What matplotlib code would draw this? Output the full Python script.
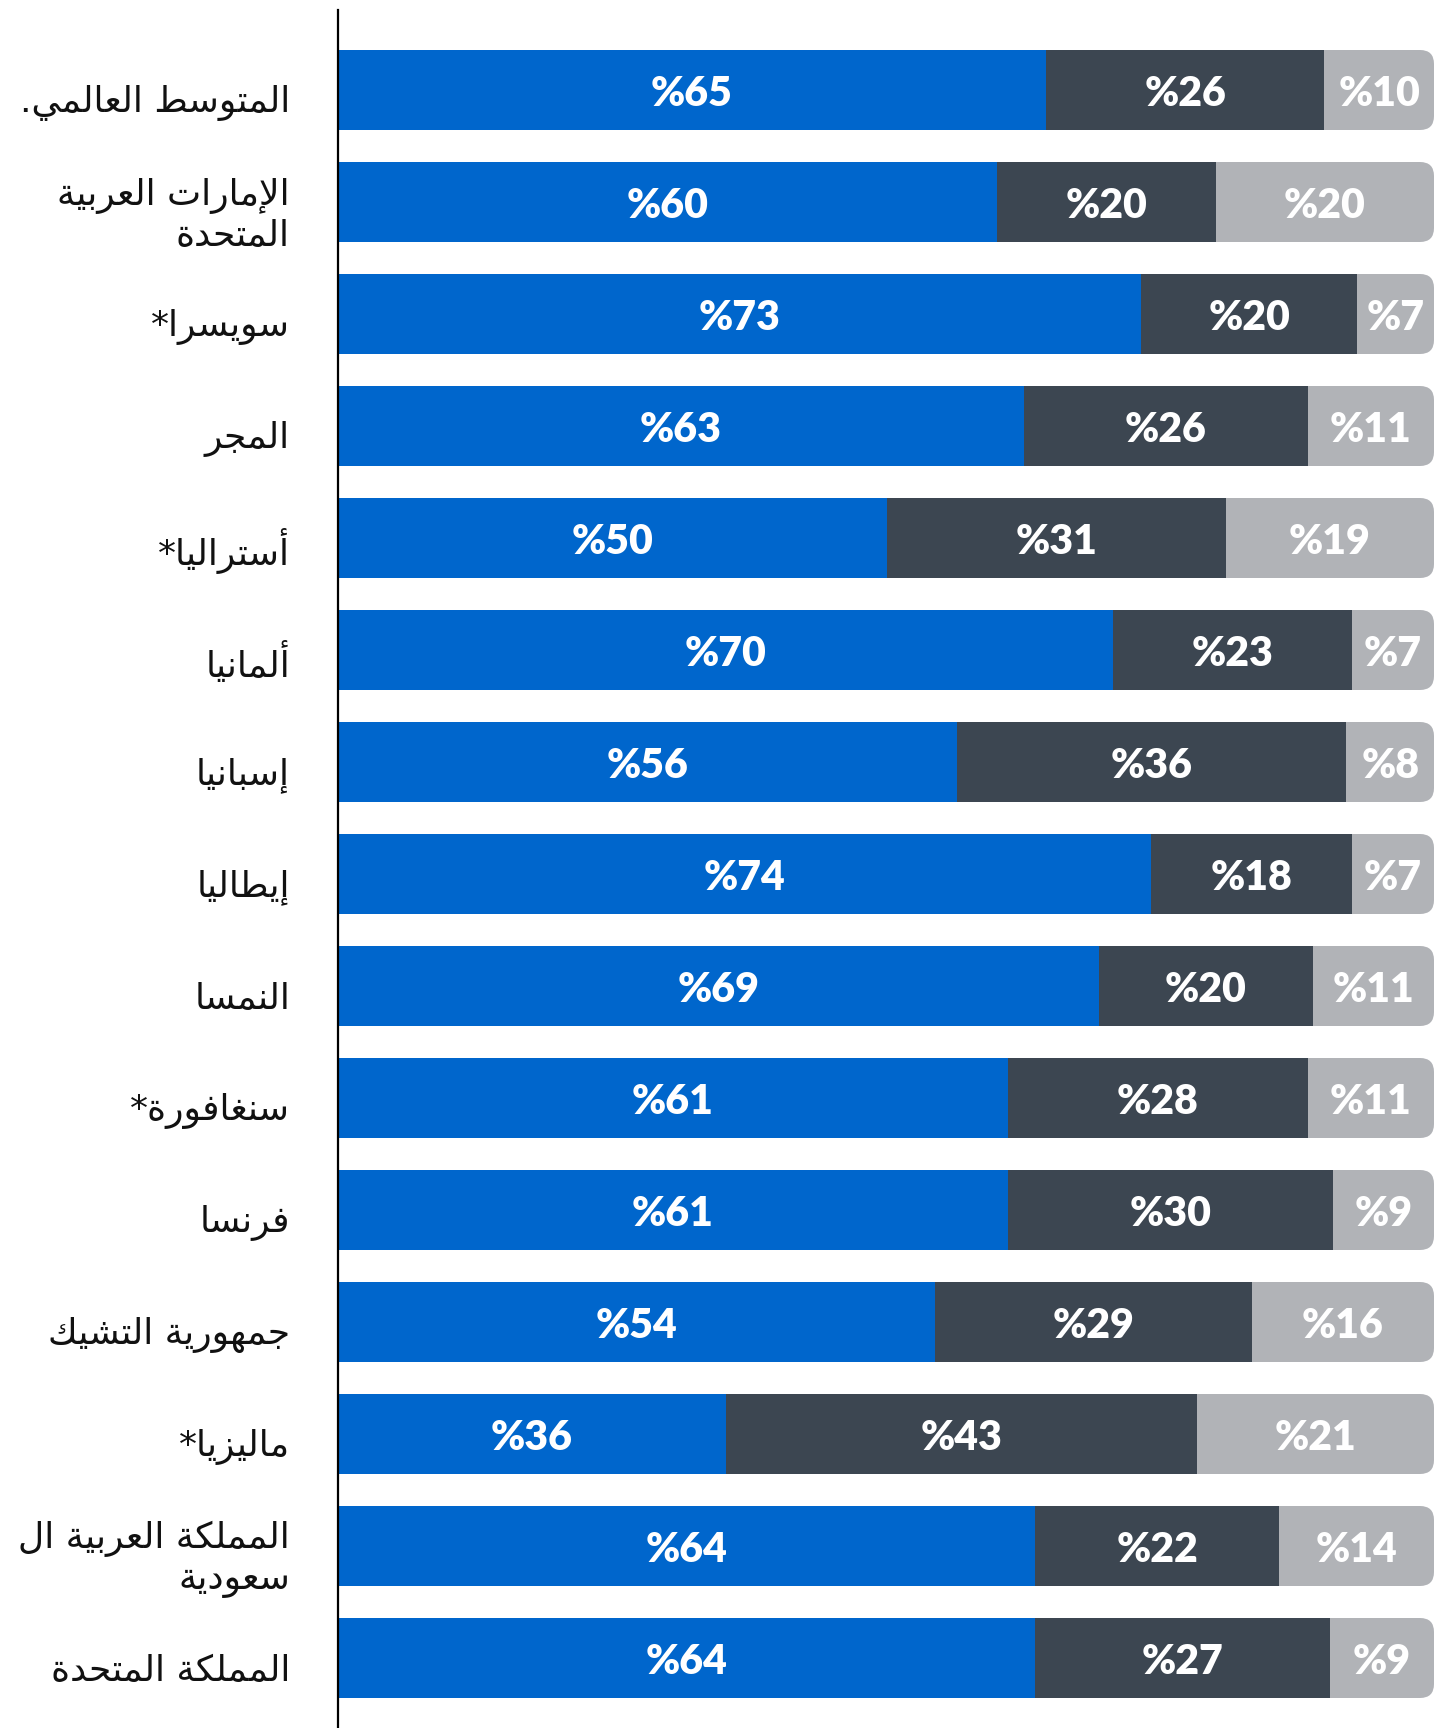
import matplotlib
matplotlib.use("Agg")
import matplotlib.pyplot as plt
from matplotlib.patches import FancyBboxPatch
from matplotlib import font_manager
import matplotlib.patheffects as pe

# ---------------- data ----------------
countries = [
    "المتوسط العالمي.",
    "الإمارات العربية\nالمتحدة",
    "سويسرا*",
    "المجر",
    "أستراليا*",
    "ألمانيا",
    "إسبانيا",
    "إيطاليا",
    "النمسا",
    "سنغافورة*",
    "فرنسا",
    "جمهورية التشيك",
    "ماليزيا*",
    "المملكة العربية ال\nسعودية",
    "المملكة المتحدة",
]
# printed labels (%)
lab_blue = [65, 60, 73, 63, 50, 70, 56, 74, 69, 61, 61, 54, 36, 64, 64]
lab_dark = [26, 20, 20, 26, 31, 23, 36, 18, 20, 28, 30, 29, 43, 22, 27]
lab_light = [10, 20, 7, 11, 19, 7, 8, 7, 11, 11, 9, 16, 21, 14, 9]
# segment shares as drawn (%)
share_blue = [64.6, 60.1, 73.3, 62.6, 50.1, 70.7, 56.5, 74.2, 69.4, 61.1, 61.1, 54.5, 35.4, 63.6, 63.6]
share_dark = [25.4, 20.0, 19.7, 25.9, 30.9, 21.8, 35.5, 18.3, 19.6, 27.4, 29.7, 28.9, 43.0, 22.3, 26.9]
share_light = [10.0, 19.9, 7.0, 11.5, 19.0, 7.5, 8.0, 7.5, 11.0, 11.5, 9.2, 16.6, 21.6, 14.1, 9.5]

colors = ["#0066CC", "#3C4651", "#B1B3B7"]

# ---------------- minimal Arabic shaping (presentation forms + RTL order) ----------------
_FORMS = {
    0x0621: (0xFE80, 1), 0x0622: (0xFE81, 2), 0x0623: (0xFE83, 2), 0x0624: (0xFE85, 2),
    0x0625: (0xFE87, 2), 0x0626: (0xFE89, 4), 0x0627: (0xFE8D, 2), 0x0628: (0xFE8F, 4),
    0x0629: (0xFE93, 2), 0x062A: (0xFE95, 4), 0x062B: (0xFE99, 4), 0x062C: (0xFE9D, 4),
    0x062D: (0xFEA1, 4), 0x062E: (0xFEA5, 4), 0x062F: (0xFEA9, 2), 0x0630: (0xFEAB, 2),
    0x0631: (0xFEAD, 2), 0x0632: (0xFEAF, 2), 0x0633: (0xFEB1, 4), 0x0634: (0xFEB5, 4),
    0x0635: (0xFEB9, 4), 0x0636: (0xFEBD, 4), 0x0637: (0xFEC1, 4), 0x0638: (0xFEC5, 4),
    0x0639: (0xFEC9, 4), 0x063A: (0xFECD, 4), 0x0641: (0xFED1, 4), 0x0642: (0xFED5, 4),
    0x0643: (0xFED9, 4), 0x0644: (0xFEDD, 4), 0x0645: (0xFEE1, 4), 0x0646: (0xFEE5, 4),
    0x0647: (0xFEE9, 4), 0x0648: (0xFEED, 2), 0x0649: (0xFEEF, 2), 0x064A: (0xFEF1, 4),
}
_LAMALEF = {0x0622: 0xFEF5, 0x0623: 0xFEF7, 0x0625: 0xFEF9, 0x0627: 0xFEFB}


def _jtype(item):
    kind, c = item
    if kind == "LA":
        return "R"
    f = _FORMS.get(ord(c))
    if f is None:
        return "U"
    return "D" if f[1] == 4 else ("R" if f[1] == 2 else "U")


def shape_line(text):
    items = []
    i = 0
    while i < len(text):
        c = text[i]
        if ord(c) == 0x0644 and i + 1 < len(text) and ord(text[i + 1]) in _LAMALEF:
            items.append(("LA", text[i + 1]))
            i += 2
        else:
            items.append(("C", c))
            i += 1
    out = []
    for k, item in enumerate(items):
        jt = _jtype(item)
        prev = _jtype(items[k - 1]) if k > 0 else "U"
        nxt = _jtype(items[k + 1]) if k + 1 < len(items) else "U"
        jp = jt in ("D", "R") and prev == "D"
        jn = jt == "D" and nxt in ("D", "R")
        kind, c = item
        if kind == "LA":
            out.append(chr(_LAMALEF[ord(c)] + (1 if jp else 0)))
        elif jt == "U":
            out.append(c)
        else:
            base = _FORMS[ord(c)][0]
            idx = 3 if (jp and jn) else 1 if jp else 2 if jn else 0
            out.append(chr(base + idx))
    return "".join(reversed(out))


def shape(text):
    return "\n".join(shape_line(l) for l in text.split("\n"))


# pick heaviest Lato available
_lato_weights = sorted({f.weight for f in font_manager.fontManager.ttflist if f.name == "Lato"},
                       key=lambda w: w if isinstance(w, int) else 400)
has_heavy = any((isinstance(w, int) and w >= 800) for w in _lato_weights)
num_weight = "heavy" if has_heavy else "bold"
num_effects = [] if has_heavy else [pe.withStroke(linewidth=1.0, foreground="white")]

# ---------------- figure ----------------
W, H = 1435, 1728
fig = plt.figure(figsize=(W / 100, H / 100), dpi=100)
ax_left_px, ax_right_px = 338, 1434
ax_top_px = 10
ax = fig.add_axes([ax_left_px / W, 0, (ax_right_px - ax_left_px) / W, 1 - ax_top_px / H])

row0_px, step_px = 90, 112
ax.set_xlim(0, 100)
ax.set_ylim((H - row0_px) / step_px, (ax_top_px - row0_px) / step_px)

bar_h = 80 / step_px
px_per_x = (ax_right_px - ax_left_px) / 100.0
radius_px = 14
r_x = radius_px / px_per_x
aspect = (1 / step_px) / (1 / px_per_x)

for i in range(len(countries)):
    wb, wd, wl = share_blue[i], share_dark[i], share_light[i]
    # rounded light segment (extends under the dark one so only the right end is rounded)
    patch = FancyBboxPatch((wb, i - bar_h / 2), wd + wl, bar_h,
                           boxstyle=f"round,pad=0,rounding_size={r_x}",
                           mutation_aspect=aspect, facecolor=colors[2],
                           edgecolor="none", zorder=1)
    ax.add_patch(patch)
    ax.barh(i, wd, left=wb, height=bar_h, color=colors[1], zorder=2, linewidth=0)
    ax.barh(i, wb, left=0, height=bar_h, color=colors[0], zorder=2, linewidth=0)
    for val, left, w in ((lab_blue[i], 0, wb), (lab_dark[i], wb, wd), (lab_light[i], wb + wd, wl)):
        ax.text(left + w / 2, i + 0.04, f"%{val}", ha="center", va="center",
                color="white", fontsize=29.5, fontweight=num_weight,
                family=["Lato", "DejaVu Sans"], zorder=3, path_effects=num_effects)

label_x = (290 - ax_left_px) / px_per_x
for i, name in enumerate(countries):
    ax.text(label_x, i + 0.12, shape(name), ha="right", va="center",
            multialignment="right", fontsize=26, color="#111111",
            family=["DejaVu Sans"], clip_on=False, linespacing=1.17)

for s in ("top", "right", "bottom"):
    ax.spines[s].set_visible(False)
ax.spines["left"].set_color("black")
ax.spines["left"].set_linewidth(1.6)
ax.spines["left"].set_zorder(4)
ax.set_xticks([])
ax.set_yticks([])
ax.patch.set_alpha(0)

fig.savefig("out.png", dpi=100, facecolor="white")
